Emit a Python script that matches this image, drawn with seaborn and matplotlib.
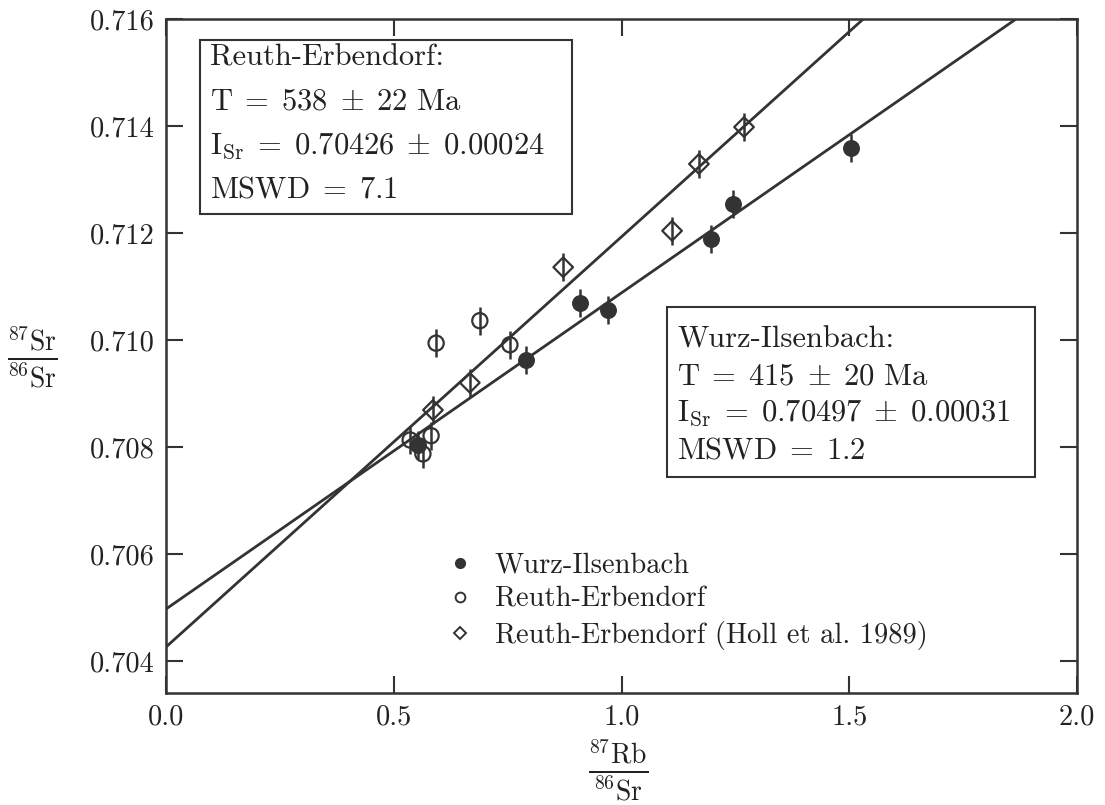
import numpy as np
import pandas as pd
import matplotlib
matplotlib.use("Agg")
import matplotlib.pyplot as plt
import seaborn as sns
from matplotlib.lines import Line2D
from matplotlib.patches import Rectangle

# ---------------- data ----------------
wurz_x = [0.553, 0.790, 0.909, 0.970, 1.196, 1.245, 1.504]
wurz_y = [0.70804, 0.70963, 0.71069, 0.71056, 0.71189, 0.71254, 0.71359]

reuth_x = [0.536, 0.564, 0.582, 0.593, 0.689, 0.755]
reuth_y = [0.70813, 0.70787, 0.70821, 0.70994, 0.71036, 0.70991]

holl_x = [0.586, 0.667, 0.872, 1.111, 1.170, 1.269]
holl_y = [0.70869, 0.70920, 0.71136, 0.71204, 0.71329, 0.71398]

y_err = 0.00026

# isochrons: initial ratio and age (Ma)
iso_names = ["Reuth-Erbendorf", "Wurz-Ilsenbach"]
iso_isr = [0.70426, 0.70497]
iso_age = [538, 415]
decay_const = 1.42e-11

x_ticks = [0.0, 0.5, 1.0, 1.5, 2.0]
x_tick_labels = ["0.0", "0.5", "1.0", "1.5", "2.0"]
y_ticks = [0.704, 0.706, 0.708, 0.710, 0.712, 0.714, 0.716]
y_tick_labels = ["0.704", "0.706", "0.708", "0.710", "0.712", "0.714", "0.716"]

legend_labels = ["Wurz-Ilsenbach", "Reuth-Erbendorf", "Reuth-Erbendorf (Holl et al. 1989)"]

box1_lines = ["Reuth-Erbendorf:",
              r"$\mathrm{T}\;=\;538\;\pm\;22\ \mathrm{Ma}$",
              r"$\mathrm{I_{Sr}}\;=\;0.70426\;\pm\;0.00024$",
              r"$\mathrm{MSWD}\;=\;7.1$"]
box2_lines = ["Wurz-Ilsenbach:",
              r"$\mathrm{T}\;=\;415\;\pm\;20\ \mathrm{Ma}$",
              r"$\mathrm{I_{Sr}}\;=\;0.70497\;\pm\;0.00031$",
              r"$\mathrm{MSWD}\;=\;1.2$"]

# ---------------- style ----------------
sns.set_theme(style="ticks")
plt.rcParams["font.family"] = ["cmr10", "DejaVu Serif"]
plt.rcParams["mathtext.fontset"] = "cm"
plt.rcParams["axes.formatter.use_mathtext"] = True
plt.rcParams["axes.unicode_minus"] = False

ink = "#333333"
txtc = "#222222"
fs = 20.5
fs_box = 22.0
W, H = 1105, 805

fig = plt.figure(figsize=(11.05, 8.05), dpi=100)
ax = fig.add_axes([166 / W, 1 - 693 / H, (1077 - 166) / W, (693 - 19) / H])

# isochron lines
xl = np.array([0.0, 2.0])
for isr, age in zip(iso_isr, iso_age):
    slope = np.exp(decay_const * age * 1e6) - 1
    df_line = pd.DataFrame({"x": xl, "y": isr + slope * xl})
    sns.lineplot(data=df_line, x="x", y="y", ax=ax, color=ink, lw=2.0, zorder=2)

# error bars
for xs, ys in [(wurz_x, wurz_y), (reuth_x, reuth_y), (holl_x, holl_y)]:
    ax.errorbar(xs, ys, yerr=y_err, fmt="none", ecolor=ink, elinewidth=1.8, capsize=0, zorder=3)

# points
sns.scatterplot(x=wurz_x, y=wurz_y, ax=ax, marker="o", s=125, color=ink,
                edgecolor=ink, linewidth=1.0, zorder=4)
sns.scatterplot(x=reuth_x, y=reuth_y, ax=ax, marker="o", s=120, facecolor="none",
                edgecolor=ink, linewidth=1.6, zorder=4)
sns.scatterplot(x=holl_x, y=holl_y, ax=ax, marker="D", s=100, facecolor="none",
                edgecolor=ink, linewidth=1.6, zorder=4)

ax.set_xlim(0, 2.0)
ax.set_ylim(0.70340, 0.716)
ax.set_xticks(x_ticks)
ax.set_xticklabels(x_tick_labels)
ax.set_yticks(y_ticks)
ax.set_yticklabels(y_tick_labels)
ax.tick_params(direction="in", length=12, width=1.5, color=ink, labelsize=fs,
               labelcolor=txtc, top=True, right=True, pad=8)
for sp in ax.spines.values():
    sp.set_color(ink)
    sp.set_linewidth(1.8)

ax.set_xlabel(r"$\frac{^{87}\mathrm{Rb}}{^{86}\mathrm{Sr}}$", fontsize=fs + 8, color=txtc, va="center")
ax.xaxis.set_label_coords((618 - 166) / 911, (693 - 771) / 674)
ax.set_ylabel(r"$\frac{^{87}\mathrm{Sr}}{^{86}\mathrm{Sr}}$", fontsize=fs + 8, color=txtc,
              rotation=0, va="center", ha="center")
ax.yaxis.set_label_coords((32 - 166) / 911, (693 - 358) / 674)

# text boxes (explicit rectangles in figure pixels)
def draw_box(x0, y0, x1, y1, tx, ty0, dy, lines):
    fig.patches.append(Rectangle((x0 / W, 1 - y1 / H), (x1 - x0) / W, (y1 - y0) / H,
                                 transform=fig.transFigure, facecolor="white",
                                 edgecolor=ink, linewidth=1.5, zorder=5))
    for i, s in enumerate(lines):
        fig.text(tx / W, 1 - (ty0 + i * dy) / H, s, fontsize=fs_box, color=txtc,
                 ha="left", va="baseline", zorder=6)

draw_box(200, 40, 572, 214, 210, 66, 44, box1_lines)
draw_box(667, 307, 1035, 477, 677, 347, 37, box2_lines)

# legend
handles = [
    Line2D([], [], ls="none", marker="o", markersize=7, color=ink, markerfacecolor=ink),
    Line2D([], [], ls="none", marker="o", markersize=7, color=ink, markerfacecolor="none", markeredgewidth=1.4),
    Line2D([], [], ls="none", marker="D", markersize=6, color=ink, markerfacecolor="none", markeredgewidth=1.4),
]
ax.legend(handles, legend_labels, loc="upper left", bbox_to_anchor=(432 / W, 1 - 538 / H),
          bbox_transform=fig.transFigure, frameon=False, fontsize=fs, labelcolor=txtc,
          handletextpad=0.7, labelspacing=0.28, handlelength=1.0, borderpad=0)

fig.savefig("out.png", dpi=100, facecolor="white")
